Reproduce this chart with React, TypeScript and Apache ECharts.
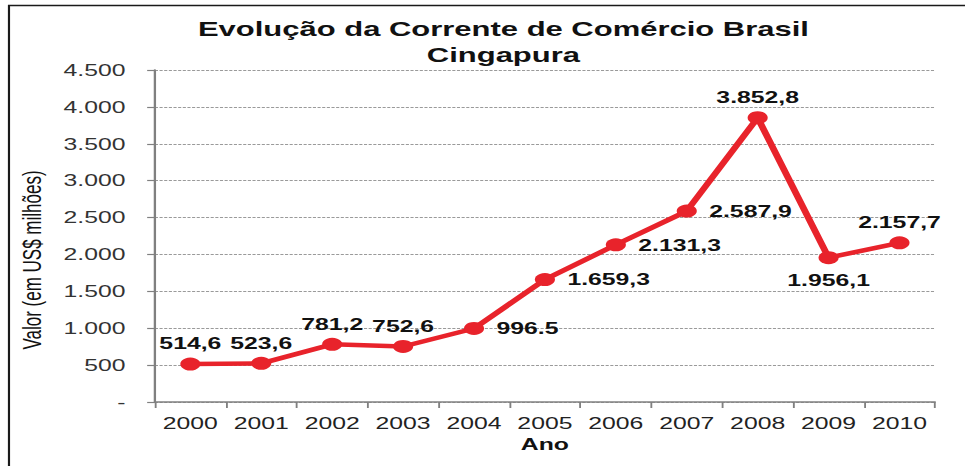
import React, { useEffect, useRef } from "react";
import * as echarts from "echarts";

const years = ["2000", "2001", "2002", "2003", "2004", "2005", "2006", "2007", "2008", "2009", "2010"];
const values = [514.6, 523.6, 781.2, 752.6, 996.5, 1659.3, 2131.3, 2587.9, 3852.8, 1956.1, 2157.7];
const valueLabels = ["514,6", "523,6", "781,2", "752,6", "996.5", "1.659,3", "2.131,3", "2.587,9", "3.852,8", "1.956,1", "2.157,7"];
const titleLines = ["Evolução da Corrente de Comércio Brasil", "Cingapura"];
const yAxisName = "Valor (em US$ milhões)";
const xAxisName = "Ano";

const BASE_W = 623;
const H = 466;
const SCALE = 965 / BASE_W;
const FONT = "'Liberation Sans', Arial, Helvetica, sans-serif";

const labelPlacement: Record<number, { position: string; distance: number }> = {
  4: { position: "right", distance: 8 },
  5: { position: "right", distance: 8 },
  6: { position: "right", distance: 8 },
  7: { position: "right", distance: 8 },
  9: { position: "bottom", distance: 8 },
};

function fmtTick(v: number): string {
  if (v === 0) return "-";
  const s = Math.round(v).toString();
  return s.replace(/\B(?=(\d{3})+(?!\d))/g, ".");
}

export default function App() {
  const ref = useRef<HTMLDivElement>(null);
  useEffect(() => {
    if (!ref.current) return;
    const chart = echarts.init(ref.current, null, { renderer: "svg" });
    const data = values.map((v, i) => {
      const p = labelPlacement[i] || { position: "top", distance: 6 };
      return {
        value: v,
        label: { position: p.position, distance: p.distance, formatter: valueLabels[i] },
      };
    });
    chart.setOption({
      animation: false,
      backgroundColor: "#ffffff",
      title: {
        text: titleLines.join("\n"),
        left: 320,
        top: 11,
        textAlign: "center",
        textStyle: {
          fontFamily: FONT,
          fontWeight: "bold",
          fontSize: 20,
          lineHeight: 26,
          color: "#111111",
        },
      },
      graphic: [
        {
          type: "rect",
          shape: { x: 5.8, y: 5.5, width: 800, height: 600 },
          style: { fill: "none", stroke: "#1a1a1a", lineWidth: 1.4 },
          silent: true,
        },
      ],
      grid: { left: 100, right: 19.4, top: 70, bottom: 64, containLabel: false },
      xAxis: {
        type: "category",
        data: years,
        boundaryGap: true,
        name: xAxisName,
        nameLocation: "middle",
        nameGap: 32,
        nameTextStyle: { fontFamily: FONT, fontWeight: "bold", fontSize: 16, color: "#111111" },
        axisLine: { lineStyle: { color: "#808080", width: 1.5 } },
        axisTick: { show: true, alignWithLabel: false, length: 6, lineStyle: { color: "#808080", width: 1.2 } },
        axisLabel: { fontFamily: FONT, fontSize: 16, color: "#222222", margin: 13, interval: 0 },
        splitLine: { show: false },
      },
      yAxis: {
        type: "value",
        min: 0,
        max: 4500,
        interval: 500,
        name: yAxisName,
        nameLocation: "middle",
        nameRotate: 90,
        nameGap: 71,
        nameTextStyle: { fontFamily: FONT, fontSize: 17, color: "#111111", padding: [0, 48, 0, 0] },
        axisLine: { show: true, lineStyle: { color: "#808080", width: 1.5 } },
        axisTick: { show: true, inside: false, length: 5, lineStyle: { color: "#808080", width: 1.2 } },
        axisLabel: { fontFamily: FONT, fontSize: 16, color: "#333333", margin: 19, formatter: fmtTick },
        splitLine: { show: true, lineStyle: { color: "#9a9a9a", type: [2, 1], width: 1 } },
      },
      series: [
        {
          type: "line",
          data,
          symbol: "circle",
          symbolSize: 13,
          itemStyle: { color: "#E8232B" },
          lineStyle: { color: "#E8232B", width: 4.5 },
          label: {
            show: true,
            fontFamily: FONT,
            fontWeight: "bold",
            fontSize: 16,
            color: "#111111",
          },
        },
      ],
    });
    return () => chart.dispose();
  }, []);
  return (
    <div
      style={{
        position: "fixed",
        left: 0,
        top: 0,
        width: 965,
        height: H,
        overflow: "hidden",
        background: "#ffffff",
      }}
    >
      <div
        ref={ref}
        style={{
          width: BASE_W,
          height: H,
          transform: `scaleX(${SCALE})`,
          transformOrigin: "0 0",
        }}
      />
    </div>
  );
}
